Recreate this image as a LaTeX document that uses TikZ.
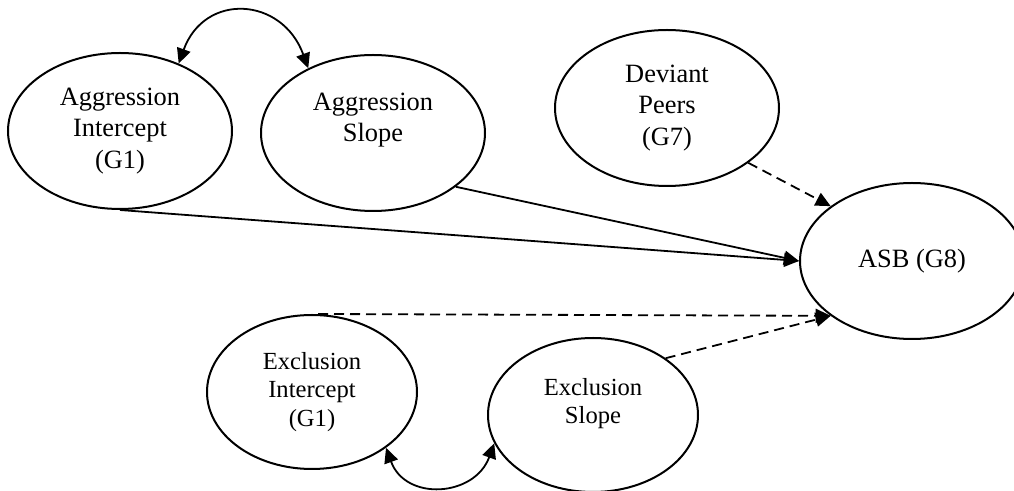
\documentclass[tikz,border=0pt]{standalone}
\usepackage{fontspec}
\setmainfont{Liberation Serif}
\usetikzlibrary{shapes.geometric,arrows.meta}
\tikzset{
  latent/.style={draw,ellipse,line width=1pt,inner sep=0pt,align=center,
    minimum width=112pt,minimum height=78pt,font=\fontsize{13.2}{15.8}\selectfont},
  smalllatent/.style={latent,minimum width=105pt,minimum height=77pt,
    font=\fontsize{12.3}{14.2}\selectfont},
  effect/.style={-{Triangle[length=7.5pt,width=7pt]},line width=0.9pt},
  weakeffect/.style={effect,dash pattern=on 5pt off 3pt},
  covar/.style={{Triangle[length=7.5pt,width=7pt]}-{Triangle[length=7.5pt,width=7pt]},line width=0.9pt}
}
\begin{document}
\begin{tikzpicture}[x=0.5pt,y=0.5pt]
    \useasboundingbox (0,0) rectangle (1014,-491);
    \node[latent](aggint)at(120,-131){Aggression\\Intercept\\(G1)};
    \node[latent](aggslope)at(373,-133){Aggression\\Slope\\\mbox{}};
    \node[latent](peers)at(667,-108){Deviant\\Peers\\(G7)};
    \node[latent](asb)at(912,-261){ASB (G8)};
    \node[smalllatent](exint)at(312,-392){Exclusion\\Intercept\\(G1)};
    \node[smalllatent](exslope)at(593,-415){Exclusion\\Slope\\\mbox{}};

    \draw[effect](aggint.south)--(asb.west);
    \draw[effect](aggslope.-33)--(asb.west);
    \draw[weakeffect](peers.-34)--(asb.146);
    \draw[weakeffect]([xshift=3pt]exint.north)--(asb.214);
    \draw[weakeffect](exslope.38)--(asb.214);

    \draw[covar](aggint.49)to[out=70,in=110,looseness=1.5](aggslope.135);
    \draw[covar](exint.-37)to[out=-70,in=-110,looseness=1.35](exslope.196);
\end{tikzpicture}
\end{document}
